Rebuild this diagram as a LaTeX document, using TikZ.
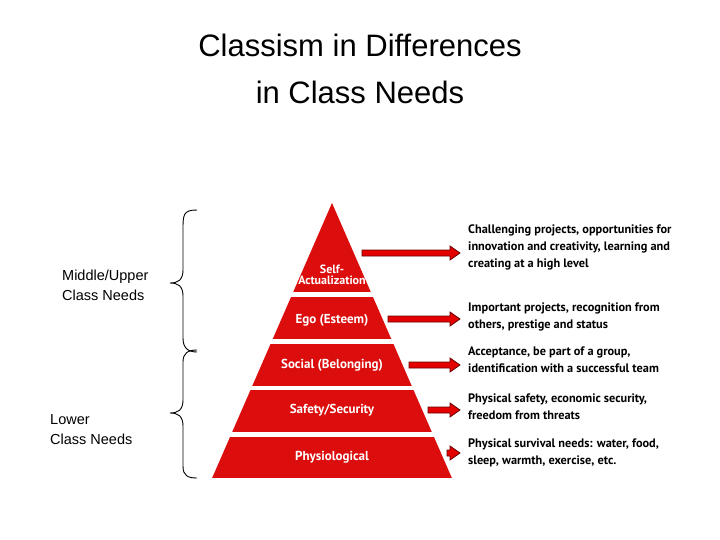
\documentclass[tikz,border=0pt]{standalone}
\usepackage{fontspec}
\setmainfont{Liberation Sans}
\newfontfamily\cond{PT Sans}
\begin{document}
\begin{tikzpicture}[x=1pt,y=-1pt,
  band/.style={fill=red!85!black!95},
  plab/.style={text=white,font=\cond\bfseries\fontsize{13}{13}\selectfont,align=center},
  rtext/.style={anchor=north west,align=left,font=\cond\bfseries\fontsize{12.3}{17}\selectfont,inner sep=0},
  llab/.style={anchor=north west,align=left,font=\fontsize{14.5}{20}\selectfont,inner sep=0}]
\useasboundingbox (0,0) rectangle (720,540);
\node[font=\fontsize{31}{47}\selectfont,align=center] (title) at (360,69) {Classism in Differences\\in Class Needs};
\begin{scope}
\clip (332,203) -- (452,478.3) -- (212,478.3) -- cycle;
\fill[band] (200,200) rectangle (460,292.3);
\fill[band] (200,296.7) rectangle (460,339);
\fill[band] (200,344) rectangle (460,385.7);
\fill[band] (200,390) rectangle (460,432.3);
\fill[band] (200,437.3) rectangle (460,478.3);
\end{scope}
\node[plab,align=center,font=\cond\bfseries\fontsize{12}{12}\selectfont] (sa) at (332,275) {Self-\\[-1pt]Actualization};
\node[plab] (ego) at (332,320) {Ego (Esteem)};
\node[plab] (soc) at (332,365) {Social (Belonging)};
\node[plab] (saf) at (332,410) {Safety/Security};
\node[plab] (phy) at (332,457) {Physiological};
\newcommand\bigarr[3]{%
 \filldraw[fill=red!90!black,draw=red!40!black,line width=0.8pt]
 (#1,#3-3) -- (#2-10,#3-3) -- (#2-10,#3-7) -- (#2,#3) -- (#2-10,#3+7) -- (#2-10,#3+3) -- (#1,#3+3) -- cycle;}
\bigarr{362}{460}{253}
\bigarr{388}{460}{319}
\bigarr{409}{460}{365}
\bigarr{428}{460}{410}
\bigarr{447}{460}{453}
\node[rtext] (t1) at (468,225) {Challenging projects, opportunities for\\innovation and creativity, learning and\\creating at a high level};
\node[rtext] (t2) at (468,303) {Important projects, recognition from\\others, prestige and status};
\node[rtext] (t3) at (468,347) {Acceptance, be part of a group,\\identification with a successful team};
\node[rtext] (t4) at (468,394) {Physical safety, economic security,\\freedom from threats};
\node[rtext] (t5) at (468,439) {Physical survival needs: water, food,\\sleep, warmth, exercise, etc.};
\draw[line width=0.9pt] (197,210) .. controls (183,210) and (183,215) .. (183,230) -- (183,270) .. controls (183,280) and (178,283) .. (170,283)
  .. controls (178,283) and (183,286) .. (183,296) -- (183,338) .. controls (183,348) and (188,352) .. (197,352);
\draw[line width=0.9pt] (197,350) .. controls (188,350) and (183,353) .. (183,362) -- (183,400) .. controls (183,410) and (178,413) .. (170,413)
  .. controls (178,413) and (183,416) .. (183,426) -- (183,466) .. controls (183,476) and (188,478) .. (197,478);
\node[llab] (mu) at (62,270) {Middle/Upper\\Class Needs};
\node[llab] (lo) at (50,414) {Lower\\Class Needs};
\end{tikzpicture}
\end{document}
